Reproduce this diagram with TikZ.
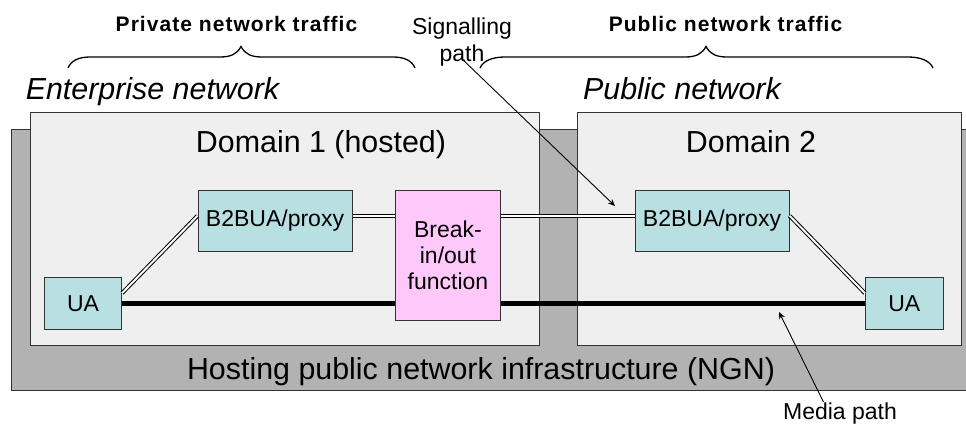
\documentclass[tikz,border=0pt]{standalone}
\usepackage{fontspec}
\setmainfont{Liberation Sans}
\usetikzlibrary{arrows.meta}
\definecolor{hostgrey}{HTML}{B2B2B2}
\definecolor{domgrey}{HTML}{EFEFEF}
\definecolor{boxteal}{HTML}{B8DFE1}
\definecolor{boxpink}{HTML}{FFC8FB}
\definecolor{edgegrey}{HTML}{333333}
\tikzset{
  x=1pt,y=-1pt,
  panel/.style={draw=edgegrey,line width=1pt,fill=domgrey,inner sep=0pt,anchor=north west},
  hostpanel/.style={panel,fill=hostgrey},
  funcbox/.style={draw=edgegrey,line width=1pt,fill=boxteal,inner sep=0pt,anchor=north west,font=\fontsize{23}{26}\selectfont,align=center},
  pinkbox/.style={funcbox,fill=boxpink},
  sigline/.style={draw=black,line width=1pt,double=white,double distance=2pt},
  medialine/.style={draw=black,line width=5pt},
  pointer/.style={draw=black,line width=0.9pt,-{Stealth[length=7pt,width=6pt]}},
  bracepath/.style={draw=black,line width=1.3pt},
  plainlabel/.style={inner sep=0pt,align=center},
  traffic/.style={plainlabel,anchor=base,font=\bfseries\fontsize{21}{24}\selectfont\addfontfeature{LetterSpace=5}},
  nettitle/.style={plainlabel,anchor=base,font=\itshape\fontsize{30.4}{34}\selectfont},
  domtitle/.style={plainlabel,anchor=base,font=\fontsize{30.4}{34}\selectfont},
  smalllabel/.style={plainlabel,font=\fontsize{23}{27}\selectfont}
}
\begin{document}
\begin{tikzpicture}
\useasboundingbox (0,0) rectangle (966,425);
\fill[white] (0,0) rectangle (966,425);
\node[hostpanel,minimum width=970pt,minimum height=260pt] (host) at (10.5,129.5) {};
\node[panel,minimum width=509.5pt,minimum height=233pt] (dom1) at (29.5,112) {};
\node[panel,minimum width=384pt,minimum height=233pt] (dom2) at (577,112) {};
\node[funcbox,minimum width=154pt,minimum height=60.5pt] (proxy1) at (197.5,190) {B2BUA/proxy};
\node[pinkbox,minimum width=105pt,minimum height=130pt,text width=100pt] (brk) at (395,190) {Break-\\in/out\\function};
\node[funcbox,minimum width=154pt,minimum height=60.5pt] (proxy2) at (634.5,190) {B2BUA/proxy};
\node[funcbox,minimum width=77pt,minimum height=52.5pt] (ua1) at (44,276.5) {UA};
\node[funcbox,minimum width=77.5pt,minimum height=52.5pt] (ua2) at (865,276.5) {UA};
\coordinate (p1e) at ([yshift=4.5pt]proxy1.east);
\coordinate (p2w) at ([yshift=4.5pt]proxy2.west);
\draw[medialine] (ua1.east) -- (brk.west |- ua1.east);
\draw[medialine] (brk.east |- ua1.east) -- (ua2.west);
\draw[sigline] ([yshift=10pt]ua1.east) -- ([yshift=5pt]proxy1.west);
\draw[sigline] (p1e) -- (brk.west |- p1e);
\draw[sigline] (brk.east |- p2w) -- (p2w);
\draw[sigline] ([yshift=5pt]proxy2.east) -- ([yshift=10pt]ua2.west);
\node[domtitle] (t1) at (321,153) {Domain 1 (hosted)};
\node[domtitle] (t2) at (751,153) {Domain 2};
\node[domtitle] (t3) at (481,379) {Hosting public network infrastructure (NGN)};
\node[nettitle] (n1) at (152.5,100) {Enterprise network};
\node[nettitle] (n2) at (682,100) {Public network};
\node[traffic] (tr1) at (236.5,31.5) {Private network traffic};
\node[traffic] (tr2) at (725.5,31.5) {Public network traffic};
\draw[bracepath] (68,68) .. controls (71,61) and (78,57) .. (90,57) -- (220,57) .. controls (231,57) and (237,54) .. (241,46.5) .. controls (245,54) and (251,57) .. (262,57) -- (393,57) .. controls (405,57) and (412,61) .. (415,68);
\draw[bracepath] (480,68) .. controls (483,61) and (492,57) .. (505,57) -- (685,57) .. controls (696,57) and (702,54) .. (706,46.5) .. controls (710,54) and (716,57) .. (727,57) -- (908,57) .. controls (921,57) and (930,61) .. (933,68);
\node[smalllabel] (sig) at (462,42) {Signalling\\path};
\node[smalllabel,anchor=base] (med) at (840,419.5) {Media path};
\coordinate (sigtip) at (615,206);
\coordinate (medtip) at (779,312);
\coordinate (sigtail) at (461,58);
\coordinate (medtail) at (823.5,402);
\draw[pointer] (sigtail) -- (sigtip);
\draw[pointer] (medtail) -- (medtip);
\end{tikzpicture}
\end{document}
